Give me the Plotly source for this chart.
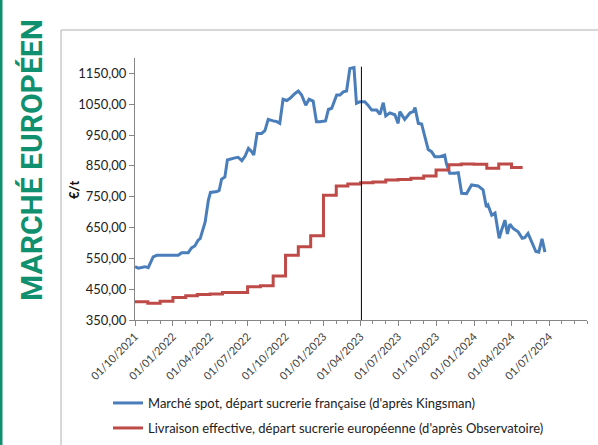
import plotly.graph_objects as go

# ---------------- data ----------------
spot_dates = [
    "2021-10-01", "2021-10-09", "2021-10-25", "2021-11-02", "2021-11-14", "2021-11-23",
    "2022-01-14", "2022-01-22", "2022-02-07", "2022-02-15", "2022-02-23", "2022-03-03",
    "2022-03-08", "2022-03-20", "2022-03-28", "2022-04-02", "2022-04-18", "2022-04-23",
    "2022-04-29", "2022-05-07", "2022-05-13", "2022-05-19", "2022-05-31", "2022-06-08",
    "2022-06-17", "2022-06-25", "2022-07-03", "2022-07-11", "2022-07-16", "2022-07-24",
    "2022-08-04", "2022-08-12", "2022-08-20", "2022-09-01", "2022-09-09", "2022-09-17",
    "2022-09-25", "2022-10-04", "2022-10-12", "2022-10-24", "2022-11-01", "2022-11-09",
    "2022-11-19", "2022-11-27", "2022-12-07", "2022-12-15", "2022-12-23", "2023-01-06",
    "2023-01-13", "2023-01-21", "2023-02-02", "2023-02-10", "2023-02-18", "2023-02-26",
    "2023-03-06", "2023-03-16", "2023-03-22", "2023-03-30", "2023-04-11", "2023-04-19",
    "2023-04-28", "2023-05-10", "2023-05-18", "2023-05-26", "2023-06-01", "2023-06-11",
    "2023-06-23", "2023-07-01", "2023-07-05", "2023-07-17", "2023-07-30", "2023-08-07",
    "2023-08-11", "2023-08-19", "2023-08-27", "2023-09-04", "2023-09-12", "2023-09-20",
    "2023-09-28", "2023-10-10", "2023-10-22", "2023-10-26", "2023-11-03", "2023-11-16",
    "2023-11-24", "2023-12-02", "2023-12-14", "2023-12-26", "2024-01-11", "2024-01-23",
    "2024-01-31", "2024-02-04", "2024-02-13", "2024-02-21", "2024-02-25", "2024-03-02",
    "2024-03-08", "2024-03-16", "2024-03-22", "2024-03-28", "2024-04-05", "2024-04-17",
    "2024-04-27", "2024-05-03", "2024-05-11", "2024-05-19", "2024-05-30", "2024-06-06",
    "2024-06-14", "2024-06-21",
]
spot_values = [
    523, 518, 523, 520, 555, 560,
    560, 568, 568, 584, 590, 609,
    614, 667, 739, 764, 767, 770,
    807, 814, 869, 872, 876, 878,
    867, 882, 907, 896, 885, 955,
    955, 964, 1001, 996, 994, 988,
    1066, 1062, 1069, 1085, 1093, 1080,
    1047, 1066, 1060, 993, 993, 996,
    1033, 1037, 1080, 1080, 1090, 1093,
    1166, 1169, 1053, 1058, 1058, 1047,
    1031, 1031, 1017, 1055, 1012, 1022,
    1016, 988, 1026, 1001, 1022, 1026,
    1039, 988, 986, 944, 903, 896,
    880, 880, 885, 858, 826, 826,
    828, 761, 760, 788, 785, 772,
    717, 723, 690, 697, 669, 615,
    642, 674, 629, 661, 647, 636,
    615, 617, 631, 604, 572, 570,
    613, 570,
]

delivery_dates = [
    "2021-10-01", "2021-11-01", "2021-12-01", "2022-01-01", "2022-02-01", "2022-03-01",
    "2022-04-01", "2022-05-01", "2022-06-01", "2022-07-01", "2022-08-01", "2022-09-01",
    "2022-10-01", "2022-11-01", "2022-12-01", "2023-01-01", "2023-02-01", "2023-03-01",
    "2023-04-01", "2023-05-01", "2023-06-01", "2023-07-01", "2023-08-01", "2023-09-01",
    "2023-10-01", "2023-11-01", "2023-12-01", "2024-01-01", "2024-02-01", "2024-03-01",
    "2024-04-01", "2024-04-28",
]
delivery_values = [
    409, 404, 411, 423, 429, 433,
    434, 439, 439, 458, 461, 493,
    560, 588, 623, 755, 785, 791,
    795, 798, 804, 806, 810, 817,
    837, 854, 856, 855, 842, 856,
    845, 845,
]

series_names = [
    "Marché spot, départ sucrerie française (d'après Kingsman)",
    "Livraison effective, départ sucrerie européenne (d'après Observatoire)",
]

y_ticks = [350, 450, 550, 650, 750, 850, 950, 1050, 1150]
y_ticktext = ["350,00", "450,00", "550,00", "650,00", "750,00", "850,00", "950,00", "1050,00", "1150,00"]
x_ticks = ["2021-10-01", "2022-01-01", "2022-04-01", "2022-07-01", "2022-10-01", "2023-01-01",
           "2023-04-01", "2023-07-01", "2023-10-01", "2024-01-01", "2024-04-01", "2024-07-01"]
x_ticktext = ["01/10/2021", "01/01/2022", "01/04/2022", "01/07/2022", "01/10/2022", "01/01/2023",
              "01/04/2023", "01/07/2023", "01/10/2023", "01/01/2024", "01/04/2024", "01/07/2024"]
marker_date = "2023-04-03"
marker_top = 1172

title_text = "MARCHÉ EUROPÉEN"
unit_text = "€/t"

# ---------------- layout helpers (pixel -> paper) ----------------
W, H = 598, 445
ML, MR, MT, MB = 135, 11, 58, 125
PW, PH = W - ML - MR, H - MT - MB


def px(x):
    return (x - ML) / PW


def py(y):
    return (H - MB - y) / PH


BLUE = "#4a7ebb"
RED = "#be4b48"
GREEN = "#11906f"
FONT = "Lato, Carlito, Calibri, 'Liberation Sans', sans-serif"

fig = go.Figure()
fig.add_trace(go.Scatter(x=spot_dates, y=spot_values, mode="lines", name=series_names[0],
                         line=dict(color=BLUE, width=3), legend="legend"))
fig.add_trace(go.Scatter(x=delivery_dates, y=delivery_values, mode="lines", name=series_names[1],
                         line=dict(color=RED, width=3, shape="hv"), legend="legend2"))

fig.update_layout(
    width=W, height=H, autosize=False,
    margin=dict(l=ML, r=MR, t=MT, b=MB, autoexpand=False),
    paper_bgcolor="white", plot_bgcolor="white",
    font=dict(family=FONT, size=13, color="#222222"),
    showlegend=True,
    legend=dict(x=px(108), y=py(403), xanchor="left", yanchor="middle",
                font=dict(size=13, color="#222222"), bgcolor="rgba(0,0,0,0)"),
    legend2=dict(x=px(108), y=py(428), xanchor="left", yanchor="middle",
                 font=dict(size=13, color="#222222"), bgcolor="rgba(0,0,0,0)"),
    xaxis=dict(
        type="date", range=["2021-10-01", "2024-10-01"],
        tickmode="array", tickvals=x_ticks, ticktext=x_ticktext, tickangle=-45,
        tickfont=dict(size=11, color="#404040"),
        showgrid=False, zeroline=False, automargin=False,
        showline=True, linecolor="#868686", linewidth=1,
        ticks="outside", ticklen=5, tickcolor="#868686",
        minor=dict(tickmode="linear", tick0="2021-10-01", dtick="M1",
                   ticks="outside", ticklen=3, tickcolor="#868686", showgrid=False),
    ),
    yaxis=dict(
        range=[350, 1200], tickmode="array", tickvals=y_ticks, ticktext=y_ticktext,
        tickfont=dict(size=13, color="#222222"),
        showgrid=False, zeroline=False, automargin=False,
        showline=True, linecolor="#868686", linewidth=1,
        ticks="outside", ticklen=5, tickcolor="#868686",
    ),
    shapes=[
        dict(type="line", xref="x", yref="y", x0=marker_date, x1=marker_date, y0=350, y1=marker_top,
             line=dict(color="black", width=1)),
        dict(type="rect", xref="paper", yref="paper", x0=px(61), x1=px(605), y0=py(455), y1=py(30),
             line=dict(color="#b0b0b0", width=1), fillcolor="rgba(0,0,0,0)", layer="below"),
        dict(type="rect", xref="paper", yref="paper", x0=px(-2), x1=px(2.5), y0=py(450), y1=py(-5),
             line=dict(width=0), fillcolor=GREEN),
    ],
    annotations=[
        dict(text="<b>" + title_text + "</b>", xref="paper", yref="paper", x=px(31), y=py(160),
             textangle=-90, showarrow=False, xanchor="center", yanchor="middle",
             font=dict(family="Roboto, 'Liberation Sans', sans-serif", size=30, color=GREEN)),
        dict(text="<b>" + unit_text + "</b>", xref="paper", yref="paper", x=px(74), y=py(190),
             textangle=-90, showarrow=False, xanchor="center", yanchor="middle",
             font=dict(size=13, color="#111111")),
    ],
)

fig.write_html("out.html", config={"displayModeBar": False},
               post_script="document.body.style.margin='0';document.body.style.overflow='hidden';")
